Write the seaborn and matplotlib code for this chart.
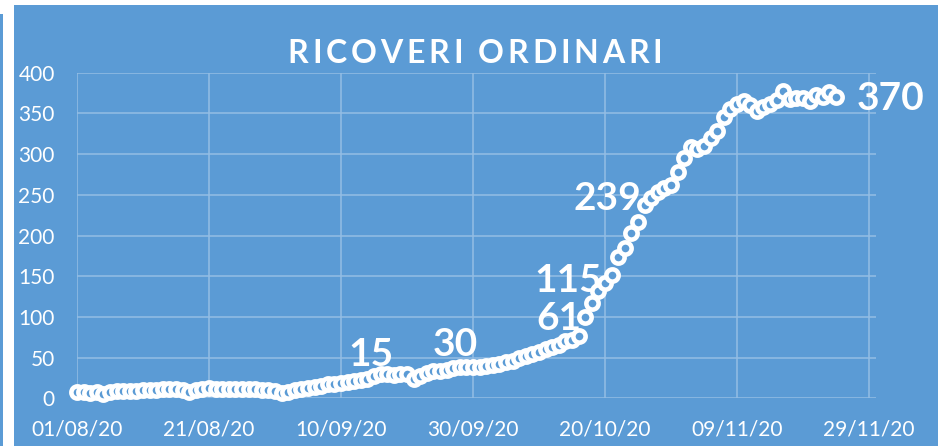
import pandas as pd
import matplotlib
matplotlib.use("Agg")
import matplotlib.pyplot as plt
import matplotlib.dates as mdates
from matplotlib.patches import Rectangle
import seaborn as sns

# dati giornalieri dal 01/08/20
start_date = "2020-08-01"
ricoveri = [
    8, 8, 7, 8, 5, 8, 9, 9, 9, 9,
    10, 10, 10, 11, 11, 11, 10, 8, 10, 11,
    13, 12, 12, 11, 12, 12, 11, 11, 10, 10,
    9, 7, 8, 10, 12, 13, 14, 15, 17, 18,
    19, 20, 21, 22, 24, 27, 30, 30, 29, 30,
    30, 24, 28, 31, 33, 34, 35, 37, 38, 38,
    39, 39, 40, 41, 42, 44, 46, 49, 52, 54,
    57, 60, 63, 66, 70, 72, 77, 100, 117, 132,
    142, 152, 173, 185, 203, 217, 237, 246, 254, 258,
    262, 278, 295, 309, 306, 310, 320, 328, 346, 355,
    361, 365, 360, 353, 358, 361, 367, 377, 368, 369,
    369, 365, 373, 370, 376, 370,
]
y_ticks = [0, 50, 100, 150, 200, 250, 300, 350, 400]
x_tick_dates = ["2020-08-01", "2020-08-21", "2020-09-10", "2020-09-30",
                "2020-10-20", "2020-11-09", "2020-11-29"]

# etichette: indice del punto a cui sono agganciate e testo
label_idx = [45, 57, 77, 80, 86, 115]
label_txt = ["15", "30", "61", "115", "239", "370"]

titolo = "RICOVERI ORDINARI"

# spostamento (punti) e allineamento di ogni etichetta
label_style = [
    ((-2, 3), "center", "bottom"),
    ((1.5, 4.4), "center", "bottom"),
    ((-3, -1), "right", "center"),
    ((-2.4, 1.6), "right", "center"),
    ((-2.4, 5), "right", "center"),
    ((14.6, -1), "left", "center"),
]

df = pd.DataFrame({
    "data": pd.date_range(start_date, periods=len(ricoveri), freq="D"),
    "ricoveri": ricoveri,
})

BLUE = "#5B9BD5"
GRID = "#94BEE4"

sns.set_style("white")
plt.rcParams["font.family"] = ["Lato", "DejaVu Sans"]

fig = plt.figure(figsize=(9.4, 4.46), dpi=100, facecolor="white")
# sfondo del riquadro grafico
fig.add_artist(Rectangle((13.7 / 940, 0), (938 - 13.7) / 940, 1 - 5 / 446,
                         transform=fig.transFigure, facecolor=BLUE,
                         edgecolor="none", zorder=0))
fig.add_artist(Rectangle((0, 0), 2.5 / 940, 1 - 14 / 446,
                         transform=fig.transFigure, facecolor=BLUE,
                         edgecolor="none", zorder=0))

ax = fig.add_axes([77 / 940, 47.7 / 446, (875.6 - 77) / 940, (398.3 - 72.7) / 446])
ax.set_facecolor(BLUE)

sns.scatterplot(data=df, x="data", y="ricoveri", ax=ax, s=78,
                color=BLUE, edgecolor="white", linewidth=3.3,
                zorder=3, clip_on=False, legend=False)

ax.set_ylim(0, 400)
ax.set_xlim(pd.Timestamp("2020-08-01"), pd.Timestamp("2020-11-30"))
ax.set_yticks(y_ticks)
ax.set_xticks(pd.to_datetime(x_tick_dates))
ax.xaxis.set_major_formatter(mdates.DateFormatter("%d/%m/%y"))
ax.grid(True, color=GRID, linewidth=1.1)
ax.set_axisbelow(True)
for s in ax.spines.values():
    s.set_visible(False)
ax.tick_params(axis="both", length=0, labelcolor="white", labelsize=15)
ax.tick_params(axis="y", pad=16)
ax.tick_params(axis="x", pad=15)
ax.set_xlabel("")
ax.set_ylabel("")

for i, txt, (off, ha, va) in zip(label_idx, label_txt, label_style):
    ax.annotate(txt, (df["data"][i], df["ricoveri"][i]), xytext=off,
                textcoords="offset points", ha=ha, va=va, color="white",
                fontsize=28, fontweight="bold", zorder=2,
                annotation_clip=False)

# titolo con spaziatura tra le lettere
renderer = fig.canvas.get_renderer()
title_kw = dict(color="white", fontsize=23, fontweight="bold", va="baseline", ha="left")
def char_width(ch):
    if ch == " ":
        a = fig.text(0, 0, "I I", **title_kw)
        b = fig.text(0, 0, "II", **title_kw)
        w = a.get_window_extent(renderer).width - b.get_window_extent(renderer).width
        a.remove()
        b.remove()
        return w
    t = fig.text(0, 0, ch, **title_kw)
    w = t.get_window_extent(renderer).width
    t.remove()
    return w

tracking = 3.8
widths = [char_width(c) for c in titolo]
total = sum(widths) + tracking * (len(titolo) - 1)
x = 475 - total / 2
for c, w in zip(titolo, widths):
    if c != " ":
        fig.text(x / 940, 1 - 63 / 446, c, **title_kw)
    x += w + tracking

fig.savefig("out.png", dpi=100, facecolor="white")
